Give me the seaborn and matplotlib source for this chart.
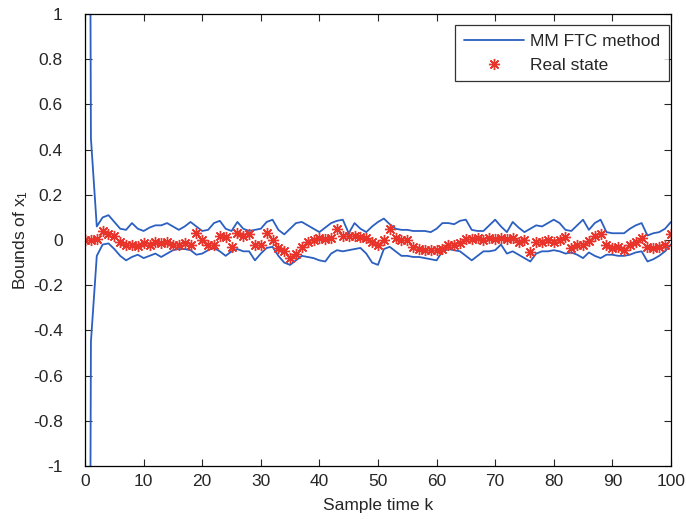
import numpy as np
import pandas as pd
import matplotlib
matplotlib.use("Agg")
import matplotlib.pyplot as plt
import seaborn as sns

k = list(range(0, 101))

upper = [8.0, 0.45, 0.06, 0.10, 0.11, 0.08, 0.05, 0.045, 0.075, 0.05,
         0.04, 0.055, 0.065, 0.065, 0.075, 0.06, 0.045, 0.06, 0.08, 0.06,
         0.04, 0.045, 0.075, 0.085, 0.05, 0.04, 0.08, 0.05, 0.04, 0.045,
         0.05, 0.08, 0.09, 0.045, 0.025, 0.05, 0.075, 0.08, 0.065, 0.05,
         0.035, 0.055, 0.075, 0.085, 0.09, 0.03, 0.075, 0.05, 0.035, 0.06,
         0.08, 0.095, 0.07, 0.05, 0.045, 0.045, 0.04, 0.04, 0.04, 0.035,
         0.05, 0.075, 0.075, 0.07, 0.085, 0.09, 0.045, 0.04, 0.04, 0.065,
         0.09, 0.06, 0.035, 0.08, 0.055, 0.035, 0.05, 0.065, 0.06, 0.075,
         0.09, 0.075, 0.045, 0.04, 0.065, 0.09, 0.045, 0.075, 0.09, 0.035,
         0.03, 0.03, 0.03, 0.05, 0.065, 0.075, 0.02, 0.03, 0.035, 0.05,
         0.08]

lower = [-8.0, -0.45, -0.07, -0.02, -0.015, -0.04, -0.07, -0.09, -0.075, -0.065,
         -0.08, -0.07, -0.06, -0.075, -0.06, -0.045, -0.04, -0.04, -0.045, -0.065,
         -0.06, -0.045, -0.035, -0.05, -0.07, -0.05, -0.04, -0.05, -0.05, -0.09,
         -0.06, -0.035, -0.03, -0.07, -0.10, -0.11, -0.09, -0.07, -0.075, -0.08,
         -0.09, -0.095, -0.06, -0.045, -0.05, -0.045, -0.04, -0.035, -0.06, -0.10,
         -0.11, -0.04, -0.03, -0.05, -0.07, -0.07, -0.075, -0.075, -0.08, -0.085,
         -0.09, -0.05, -0.04, -0.045, -0.05, -0.07, -0.09, -0.07, -0.05, -0.05,
         -0.045, -0.02, -0.06, -0.05, -0.065, -0.08, -0.095, -0.06, -0.05, -0.05,
         -0.045, -0.05, -0.06, -0.055, -0.065, -0.08, -0.055, -0.07, -0.08, -0.065,
         -0.065, -0.07, -0.07, -0.065, -0.055, -0.05, -0.095, -0.085, -0.07, -0.05,
         -0.02]

state = [0.0, 0.0, 0.005, 0.04, 0.025, 0.02, -0.01, -0.02, -0.02, -0.025,
         -0.015, -0.02, -0.01, -0.015, -0.01, -0.02, -0.02, -0.015, -0.02, 0.03,
         0.0, -0.02, -0.02, 0.02, 0.015, -0.03, 0.03, 0.02, 0.025, -0.02,
         -0.02, 0.03, 0.0, -0.035, -0.05, -0.08, -0.06, -0.03, -0.01, 0.0,
         0.01, 0.005, 0.01, 0.05, 0.02, 0.02, 0.02, 0.015, 0.01, -0.01,
         -0.02, 0.0, 0.05, 0.01, 0.0, 0.0, -0.03, -0.04, -0.045, -0.045,
         -0.045, -0.04, -0.02, -0.02, -0.015, 0.005, 0.005, 0.01, 0.0, 0.01,
         0.005, 0.01, 0.005, 0.01, -0.01, 0.0, -0.055, -0.01, -0.01, 0.0,
         -0.01, 0.0, 0.015, -0.035, -0.02, -0.02, -0.005, 0.02, 0.025, -0.02,
         -0.035, -0.03, -0.045, -0.02, -0.01, 0.01, -0.03, -0.035, -0.03, -0.02,
         0.025]

x_ticks = list(range(0, 101, 10))
y_ticks = [-1, -0.8, -0.6, -0.4, -0.2, 0, 0.2, 0.4, 0.6, 0.8, 1]
y_tick_labels = ["-1", "-0.8", "-0.6", "-0.4", "-0.2", "0", "0.2", "0.4", "0.6", "0.8", "1"]

sns.set_style("ticks")
plt.rcParams["font.family"] = ["Liberation Sans", "DejaVu Sans"]
plt.rcParams["mathtext.fontset"] = "custom"
plt.rcParams["mathtext.rm"] = "Liberation Sans"
plt.rcParams["mathtext.it"] = "Liberation Sans"

df = pd.DataFrame({"k": k, "upper": upper, "lower": lower, "state": state})

fig = plt.figure(figsize=(6.86, 5.21), dpi=100)
ax = fig.add_axes([0.124, 0.1056, 0.854, 0.8674])

blue = "#2b5fc0"
red = "#e8342a"

sns.lineplot(data=df, x="k", y="upper", ax=ax, color=blue, linewidth=1.3,
             label="MM FTC method")
sns.lineplot(data=df, x="k", y="lower", ax=ax, color=blue, linewidth=1.3,
             label="_nolegend_")
sns.lineplot(data=df, x="k", y="state", ax=ax, color=red, linestyle="none",
             marker=(8, 2, 0), markersize=8, markeredgecolor=red,
             markeredgewidth=1.0, label="Real state")

ax.set_xlim(0, 100)
ax.set_ylim(-1, 1)
ax.set_xticks(x_ticks)
ax.set_yticks(y_ticks)
ax.set_yticklabels(y_tick_labels)
ax.tick_params(direction="in", top=True, right=True, labelsize=12.5, length=5,
               width=0.8)
ax.tick_params(axis="y", pad=16)
ax.tick_params(axis="x", pad=6)
for s in ax.spines.values():
    s.set_visible(True)
    s.set_linewidth(0.9)
    s.set_color("black")

ax.set_xlabel("Sample time k", fontsize=12.5, labelpad=6)
ax.set_ylabel("Bounds of x$_1$", fontsize=12.5, labelpad=2)

leg = ax.legend(loc="upper right", bbox_to_anchor=(0.997, 0.976),
                borderaxespad=0.0, fontsize=12.5, frameon=True, fancybox=False,
                edgecolor="black", handlelength=3.5, handletextpad=0.35,
                borderpad=0.5, labelspacing=0.5)
leg.get_frame().set_linewidth(0.9)

fig.savefig("out.png", dpi=100)
